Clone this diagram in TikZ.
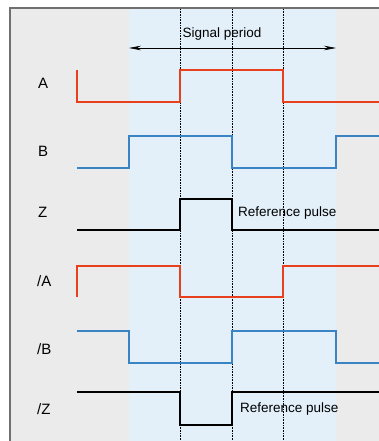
\documentclass[tikz,border=0pt]{standalone}
\usepackage{fontspec}
\setmainfont{Liberation Sans}
\usetikzlibrary{arrows.meta}
\definecolor{sigred}{HTML}{E8401C}
\definecolor{sigblue}{HTML}{3B84C4}
\definecolor{bggray}{HTML}{EBEBEB}
\definecolor{bandblue}{HTML}{E3F0FA}
\definecolor{framegray}{HTML}{707070}
\begin{document}
\begin{tikzpicture}[x=1pt,y=-1pt,
  sig/.style={line width=2pt,line join=miter},
  redsig/.style={sig,draw=sigred},
  bluesig/.style={sig,draw=sigblue},
  blacksig/.style={sig,draw=black},
  lbl/.style={font=\fontsize{15}{17}\selectfont,anchor=west,inner sep=0pt},
  note/.style={font=\fontsize{13.5}{15}\selectfont,anchor=west,inner sep=0pt},
  guide/.style={densely dotted,line width=0.6pt,draw=black}]
\useasboundingbox (0,0) rectangle (379,441);
\fill[white] (0,0) rectangle (379,441);
\fill[bggray] (10,8) rectangle (379,441);
\fill[bandblue] (129,9) rectangle (336,441);
\draw[framegray,line width=1.2pt] (10,441) -- (10,8) -- (379,8);
% guides
\draw[guide] (180,9) -- (180,441);
\draw[guide] (232,9) -- (232,441);
\draw[guide] (283,9) -- (283,441);
% signal period
\coordinate (pl) at (129,48);
\coordinate (pr) at (336,48);
\draw[line width=0.6pt,{Stealth[length=12pt,width=4.5pt]}-{Stealth[length=12pt,width=4.5pt]}] (pl) -- (pr);
\node[font=\fontsize{13.5}{15}\selectfont,inner sep=0pt] (sp) at (222,34) {Signal period};
% labels
\node[lbl] (la) at (38,83) {A};
\node[lbl] (lb) at (38,151) {B};
\node[lbl] (lz) at (38,212.7) {Z};
\node[lbl] (lna) at (37,281.5) {/A};
\node[lbl] (lnb) at (37,348.7) {/B};
\node[lbl] (lnz) at (37,409.3) {/Z};
% signals
\draw[redsig] (77,70) -- (77,102) -- (180,102) -- (180,70) -- (283,70) -- (283,102) -- (380,102);
\draw[bluesig] (77,168) -- (129,168) -- (129,136) -- (232,136) -- (232,168) -- (336,168) -- (336,136) -- (380,136);
\draw[blacksig] (77,230) -- (180,230) -- (180,199) -- (232,199) -- (232,230) -- (380,230);
\draw[redsig] (77,297) -- (77,266) -- (180,266) -- (180,297) -- (283,297) -- (283,266) -- (380,266);
\draw[bluesig] (77,331) -- (129,331) -- (129,363) -- (232,363) -- (232,331) -- (336,331) -- (336,363) -- (380,363);
\draw[blacksig] (77,392) -- (180,392) -- (180,425) -- (232,425) -- (232,392) -- (380,392);
\node[note] (rp1) at (238,213) {Reference pulse};
\node[note] (rp2) at (240,409) {Reference pulse};
\end{tikzpicture}
\end{document}
